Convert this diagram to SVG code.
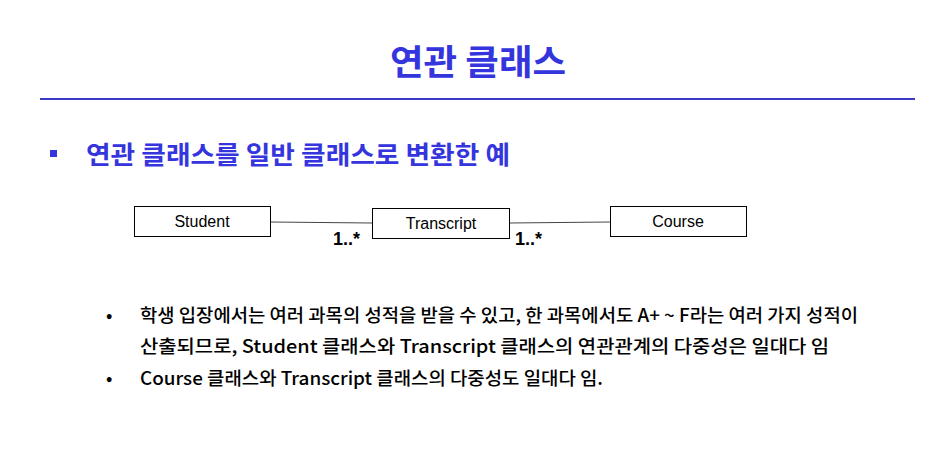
<svg xmlns="http://www.w3.org/2000/svg" width="948" height="469" viewBox="0 0 948 469">
<style>
.ko{font-family:"Noto Sans CJK KR","Noto Sans",sans-serif}
.box{fill:#fff;stroke:#000;stroke-width:1}
.lbl{font-family:"Liberation Sans",Arial,sans-serif;font-size:16px;fill:#000;text-anchor:middle}
.mult{font-family:"Liberation Sans",Arial,sans-serif;font-size:18px;font-weight:bold;fill:#000}
.body{font-family:"Noto Sans CJK KR",sans-serif;font-size:18px;font-weight:500;fill:#000}
</style>
<rect width="948" height="469" fill="#fff"/>
<text class="ko" x="390" y="75" font-size="35" font-weight="bold" fill="#3535de" textLength="176" lengthAdjust="spacingAndGlyphs">연관 클래스</text>
<line x1="40" y1="99" x2="915" y2="99" stroke="#3b3bc8" stroke-width="2"/>
<rect x="50" y="150" width="7" height="7" fill="#3535de"/>
<text class="ko" x="86" y="164" font-size="25" font-weight="bold" fill="#3535de" textLength="424" lengthAdjust="spacingAndGlyphs">연관 클래스를 일반 클래스로 변환한 예</text>
<g id="connectors" stroke="#444" stroke-width="1">
<line x1="270" y1="222" x2="372" y2="223"/>
<line x1="509" y1="223" x2="610" y2="222"/>
</g>
<g id="student"><rect class="box" x="134.5" y="206.5" width="136" height="30"/><text class="lbl" x="202" y="227">Student</text></g>
<g id="transcript"><rect class="box" x="372.5" y="208.5" width="137" height="30"/><text class="lbl" x="441" y="229">Transcript</text></g>
<g id="course"><rect class="box" x="610.5" y="206.5" width="136" height="30"/><text class="lbl" x="678" y="227">Course</text></g>
<text class="mult" x="333" y="245">1..*</text>
<text class="mult" x="515" y="245">1..*</text>
<g id="bullets">
<text class="body" x="106" y="322">•</text>
<text class="body" x="140" y="322" textLength="718" lengthAdjust="spacingAndGlyphs">학생 입장에서는 여러 과목의 성적을 받을 수 있고, 한 과목에서도 A+ ~ F라는 여러 가지 성적이</text>
<text class="body" x="140" y="353" textLength="689" lengthAdjust="spacingAndGlyphs">산출되므로, Student 클래스와 Transcript 클래스의 연관관계의 다중성은 일대다 임</text>
<text class="body" x="106" y="385">•</text>
<text class="body" x="140" y="385" textLength="463" lengthAdjust="spacingAndGlyphs">Course 클래스와 Transcript 클래스의 다중성도 일대다 임.</text>
</g>
</svg>
